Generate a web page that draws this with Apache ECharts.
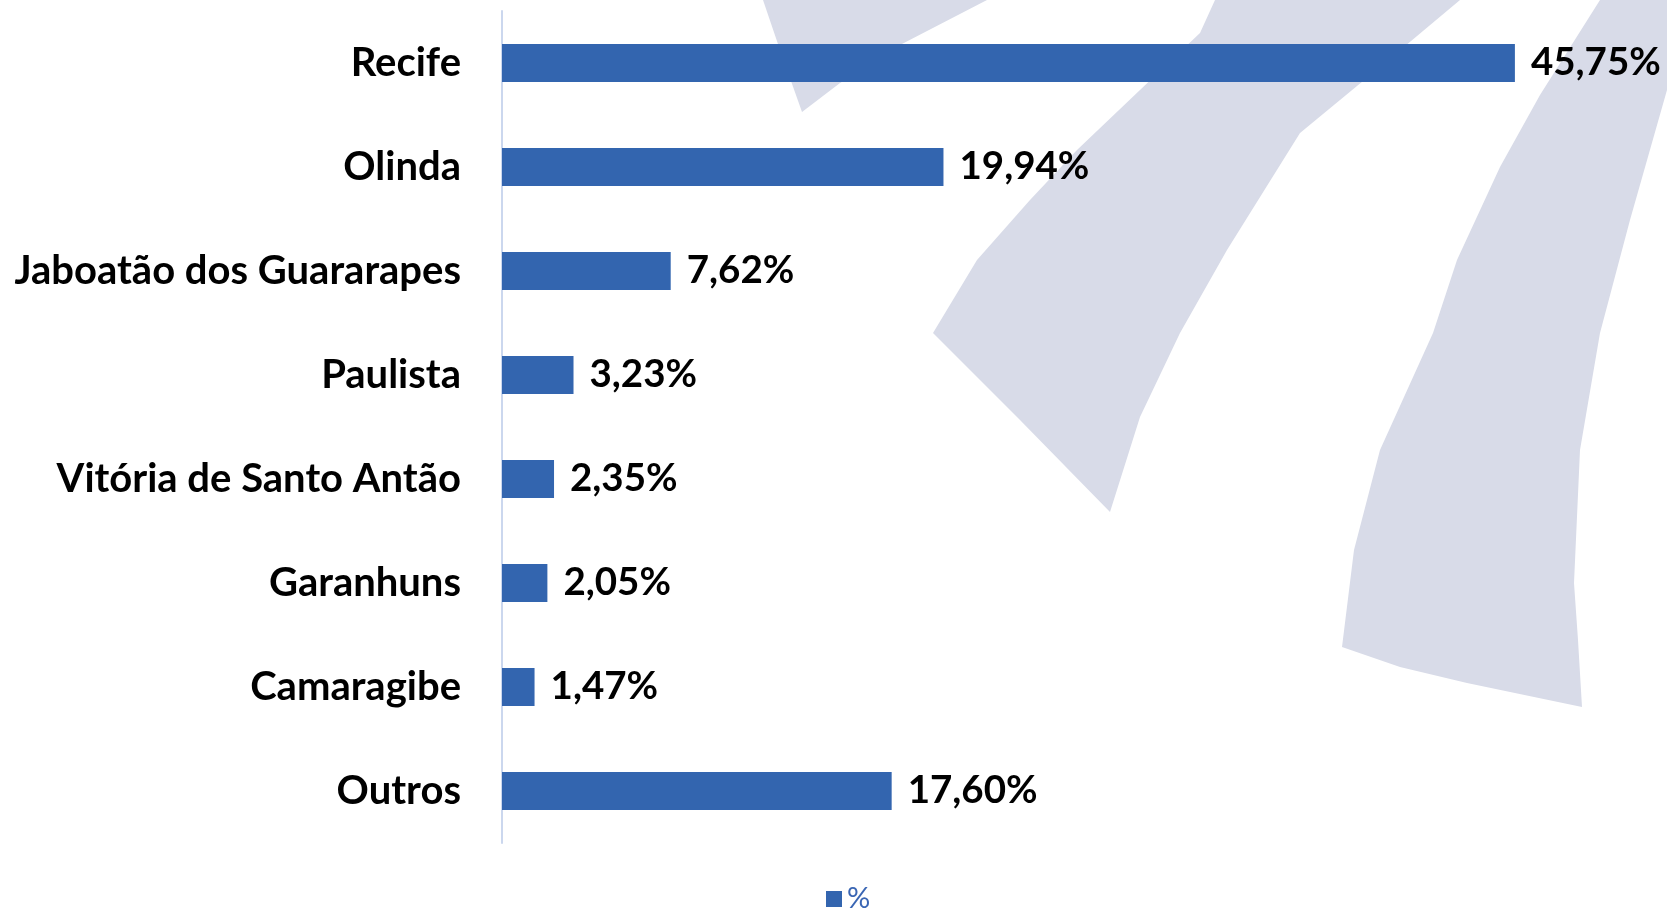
<!DOCTYPE html>
<html>
<head>
<meta charset="utf-8">
<script src="https://cdn.jsdelivr.net/npm/echarts@6/dist/echarts.min.js"></script>
<style>
  html, body { margin: 0; padding: 0; background: #ffffff; }
  #chart { width: 1667px; height: 911px; }
</style>
</head>
<body>
<div id="chart"></div>
<script>
// ---- Data ----
const categories = ['Recife', 'Olinda', 'Jaboatão dos Guararapes', 'Paulista', 'Vitória de Santo Antão', 'Garanhuns', 'Camaragibe', 'Outros'];
const values = [45.75, 19.94, 7.62, 3.23, 2.35, 2.05, 1.47, 17.60];
const seriesName = '%';

// ---- Decorative watermark (background stripes) ----
const stripeColor = '#d8dbe8';
const stripes = [
  [[763,0],[780,50],[802,112],[840,83],[900,45],[987,0]],
  [[1215,0],[1460,0],[1380,67],[1300,133],[1227,250],[1180,333],[1140,417],[1110,512],[1020,420],[933,333],[977,260],[1030,200],[1077,150],[1140,90],[1200,33]],
  [[1600,0],[1540,95],[1500,167],[1457,260],[1433,333],[1380,450],[1367,500],[1354,550],[1342,647],[1400,667],[1467,683],[1582,707],[1578,640],[1574,583],[1580,450],[1600,333],[1630,220],[1667,90],[1667,0]]
];

const chart = echarts.init(document.getElementById('chart'), null, { renderer: 'canvas' });
const font = 'Lato, "Open Sans", sans-serif';

chart.setOption({
  backgroundColor: '#ffffff',
  animation: false,
  graphic: stripes.map(pts => ({
    type: 'polygon',
    z: -10,
    silent: true,
    shape: { points: pts },
    style: { fill: stripeColor }
  })),
  grid: { left: 502, right: 58, top: 11, bottom: 68, containLabel: false },
  legend: {
    data: [seriesName],
    left: 821,
    top: 879,
    icon: 'rect',
    itemWidth: 16,
    itemHeight: 16,
    itemGap: 10,
    textStyle: { color: '#3a66b4', fontSize: 29, lineHeight: 30, fontFamily: font }
  },
  xAxis: {
    type: 'value',
    min: 0,
    max: 50,
    show: false,
    splitLine: { show: false }
  },
  yAxis: {
    type: 'category',
    data: categories,
    inverse: true,
    axisLine: { show: true, lineStyle: { color: '#cbd7ee', width: 2 } },
    axisTick: { show: false },
    axisLabel: {
      margin: 41,
      color: '#000000',
      fontSize: 40,
      fontWeight: 'bold',
      fontFamily: font
    }
  },
  series: [{
    name: seriesName,
    type: 'bar',
    data: values,
    barWidth: 38,
    itemStyle: { color: '#3365af' },
    label: {
      show: true,
      position: 'right',
      distance: 16,
      color: '#000000',
      fontSize: 38.5,
      fontWeight: 'bold',
      fontFamily: font,
      formatter: p => p.value.toFixed(2).replace('.', ',') + '%'
    }
  }]
});
</script>
</body>
</html>
